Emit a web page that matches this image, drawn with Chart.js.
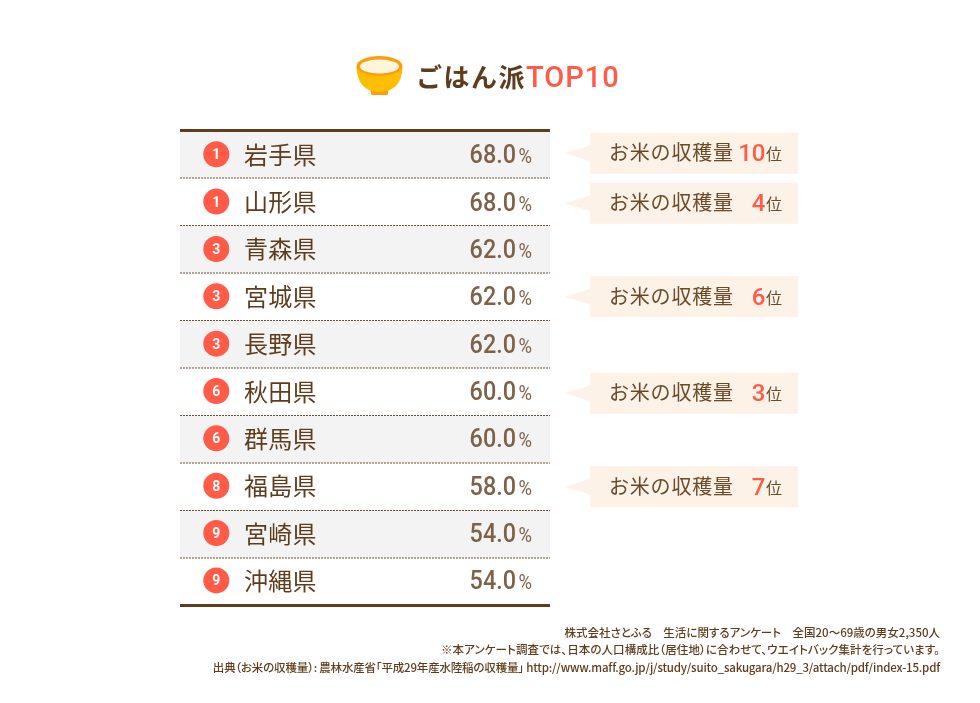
<!DOCTYPE html>
<html lang="ja">
<head>
<meta charset="utf-8">
<title>ごはん派TOP10</title>
<script src="https://cdn.jsdelivr.net/npm/chart.js@4"></script>
<style>
  html, body { margin: 0; padding: 0; background: #fff; }
  canvas { display: block; }
  #notas {
    position: absolute; right: 40px; top: 623.5px;
    text-align: right; white-space: nowrap;
    font: 500 11.5px/17.5px "Noto Sans CJK JP", sans-serif;
    font-feature-settings: "palt";
    color: #5f3d1c;
  }
</style>
</head>
<body>
<canvas id="grafico" width="980" height="703"></canvas>
<div id="notas"></div>
<script>
const prefectures = ['岩手県', '山形県', '青森県', '宮城県', '長野県', '秋田県', '群馬県', '福島県', '宮崎県', '沖縄県'];
const ranks = [1, 1, 3, 3, 3, 6, 6, 8, 9, 9];
const percents = [68.0, 68.0, 62.0, 62.0, 62.0, 60.0, 60.0, 58.0, 54.0, 54.0];
const riceRanks = [10, 4, null, 6, null, 3, null, 7, null, null];
const notes = [
    '株式会社さとふる　生活に関するアンケート　全国20～69歳の男女2,350人',
    '※本アンケート調査では、日本の人口構成比（居住地）に合わせて、ウエイトバック集計を行っています。',
    '出典（お米の収穫量）: 農林水産省「平成29年産水陸稲の収穫量」 http://www.maff.go.jp/j/study/suito_sakugara/h29_3/attach/pdf/index-15.pdf'
];

const CJK = '"Noto Sans CJK JP", "Noto Sans", sans-serif';
const NUM = 'Roboto, "Noto Sans", sans-serif';
const BROWN = '#5f3d1c';
const SOFT = '#7d6248';
const CORAL = '#ff5b47';
const NOTE_SPACING = ['0px', '0.08px', '-0.18px'];
const CALLOUT_NUDGE = { 0: -1, 1: 1.5, 3: 0, 5: 1.5, 7: 0 };

function texto(ctx, str, x, y, font, color, align = 'left', spacing = '0px') {
    ctx.font = font;
    ctx.fillStyle = color;
    ctx.textAlign = align;
    ctx.textBaseline = 'alphabetic';
    ctx.letterSpacing = spacing;
    ctx.fillText(str, x, y);
    ctx.letterSpacing = '0px';
}

// digitos mas estrechos, alineados a la derecha
function textoAngosto(ctx, str, x, y, font, color, escala) {
    ctx.save();
    ctx.translate(x, y);
    ctx.scale(escala, 1);
    texto(ctx, str, 0, 0, font, color, 'right');
    ctx.restore();
}

function dibujarCuenco(ctx) {
    ctx.fillStyle = '#ff9d0d';
    ctx.beginPath();
    ctx.moveTo(370, 89);
    ctx.lineTo(389, 89);
    ctx.lineTo(387.5, 95);
    ctx.lineTo(371.5, 95);
    ctx.closePath();
    ctx.fill();
    ctx.fillStyle = '#ffbf00';
    ctx.beginPath();
    ctx.moveTo(356.5, 67);
    ctx.bezierCurveTo(357, 84, 366, 92, 379.5, 92);
    ctx.bezierCurveTo(393, 92, 402, 84, 402.5, 67);
    ctx.closePath();
    ctx.fill();
    ctx.fillStyle = '#ff9d0d';
    ctx.beginPath();
    ctx.ellipse(379.5, 66, 23, 10, 0, 0, Math.PI * 2);
    ctx.fill();
    ctx.fillStyle = '#fff6dc';
    ctx.beginPath();
    ctx.ellipse(379.5, 66.5, 19.5, 7, 0, 0, Math.PI * 2);
    ctx.fill();
}

const tablaPlugin = {
    id: 'tabla',
    beforeDatasetsDraw(chart) {
        const { ctx, chartArea, scales } = chart;
        const alto = chartArea.height / prefectures.length;
        ctx.save();
        prefectures.forEach((p, i) => {
            if (i % 2 === 0) {
                ctx.fillStyle = '#f3f3f3';
                ctx.fillRect(chartArea.left, scales.y.getPixelForValue(i) - alto / 2, chartArea.width, alto);
            }
        });
        ctx.restore();
    },
    afterDatasetsDraw(chart) {
        const { ctx, chartArea, scales } = chart;
        const alto = chartArea.height / prefectures.length;
        ctx.save();

        // separadores
        ctx.strokeStyle = '#6e4e2e';
        ctx.lineWidth = 1;
        ctx.setLineDash([2, 1]);
        for (let i = 1; i < prefectures.length; i++) {
            const y = scales.y.getPixelForValue(i) - alto / 2;
            ctx.beginPath();
            ctx.moveTo(chartArea.left, y);
            ctx.lineTo(chartArea.right, y);
            ctx.stroke();
        }
        ctx.setLineDash([]);
        ctx.fillStyle = BROWN;
        ctx.fillRect(chartArea.left, chartArea.top - 1.5, chartArea.width, 3);
        ctx.fillRect(chartArea.left, chartArea.bottom - 1.5, chartArea.width, 3);

        // filas
        prefectures.forEach((p, i) => {
            const y = scales.y.getPixelForValue(i) - i * 0.15;
            ctx.fillStyle = CORAL;
            ctx.beginPath();
            ctx.arc(216.3, y, 13, 0, Math.PI * 2);
            ctx.fill();
            texto(ctx, String(ranks[i]), 216.3, y + 5, 'bold 14px ' + NUM, '#fff', 'center');
            texto(ctx, p, 244, y + 9.5, '24px ' + CJK, BROWN, 'left', '0.3px');
            textoAngosto(ctx, percents[i].toFixed(1), 516, y + 9, '500 26px ' + NUM, SOFT, 0.9);
            textoAngosto(ctx, '%', 532, y + 9, '400 20px ' + NUM, SOFT, 0.92);
        });

        // etiquetas de la cosecha
        riceRanks.forEach((r, i) => {
            if (r === null) return;
            const y = scales.y.getPixelForValue(i) + CALLOUT_NUDGE[i];
            ctx.fillStyle = '#fdf2e8';
            ctx.fillRect(590, y - 20.5, 208, 41);
            ctx.beginPath();
            ctx.moveTo(590, y - 8);
            ctx.lineTo(565, y);
            ctx.lineTo(590, y + 8);
            ctx.closePath();
            ctx.fill();
            texto(ctx, 'お米の収穫量', 609, y + 7, '20px ' + CJK, '#6b4a2a', 'left', '0.8px');
            texto(ctx, String(r), 765.5, y + 8, '500 24px ' + NUM, CORAL, 'right');
            texto(ctx, '位', 766, y + 7, '16px ' + CJK, '#6b4a2a');
        });

        // titulo
        dibujarCuenco(ctx);
        texto(ctx, 'ごはん派', 416, 87, 'bold 26px ' + CJK, BROWN, 'left', '1.5px');
        texto(ctx, 'TOP10', 526, 87, '500 29px ' + NUM, CORAL, 'left', '1px');
        ctx.restore();
    }
};

new Chart(document.getElementById('grafico'), {
    type: 'bar',
    data: {
        labels: prefectures,
        datasets: [{ label: 'ごはん派', data: percents, backgroundColor: 'rgba(0,0,0,0)', borderWidth: 0 }]
    },
    options: {
        indexAxis: 'y',
        responsive: false,
        animation: false,
        layout: { padding: { left: 180, right: 430, top: 130.5, bottom: 97.5 } },
        plugins: { legend: { display: false }, tooltip: { enabled: false } },
        scales: {
            x: { display: false, min: 0, max: 100 },
            y: { display: false }
        }
    },
    plugins: [tablaPlugin]
});

document.getElementById('notas').innerHTML = notes
    .map((n, i) => `<div style="letter-spacing:${NOTE_SPACING[i]}">${n}</div>`)
    .join('');
</script>
</body>
</html>
